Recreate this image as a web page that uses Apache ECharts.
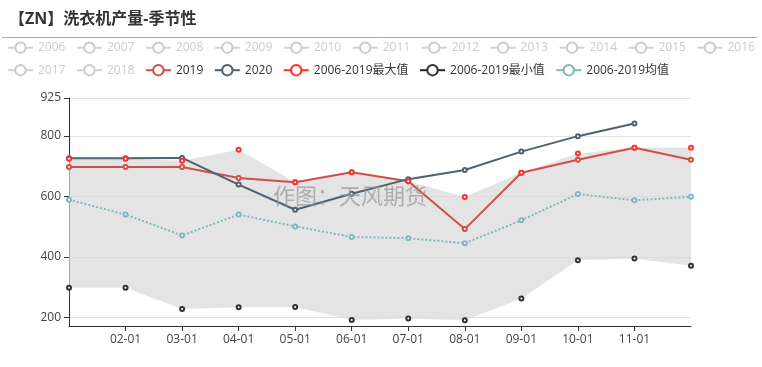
<!DOCTYPE html>
<html><head><meta charset="utf-8">
<script src="https://cdn.jsdelivr.net/npm/echarts@6/dist/echarts.min.js"></script>
<style>html,body{margin:0;padding:0;background:#fff}#c{width:762px;height:367px}</style>
</head><body><div id="c"></div>
<script>
const categories = ['01-01','02-01','03-01','04-01','05-01','06-01','07-01','08-01','09-01','10-01','11-01','12-01'];
const hiddenYears = ['2006','2007','2008','2009','2010','2011','2012','2013','2014','2015','2016','2017','2018'];
const s2019 = [697, 697, 697, 661, 647, 680, 650, 492, 678, 721, 761, 721];
const s2020 = [726, 726, 727, 639, 556, 609, 657, 687, 748, 799, 841];
const maxVals = [724, 724, 718, 754, 647, 680, 650, 598, 678, 742, 761, 761];
const minVals = [298, 298, 228, 234, 235, 192, 197, 191, 263, 389, 395, 371];
const meanVals = [589, 540, 471, 540, 501, 466, 462, 445, 521, 608, 587, 599];
const yMin = 172, yMax = 925;

const FONT = "'Open Sans','Noto Sans CJK SC',sans-serif";
const NAME_MAX = '2006-2019最大值', NAME_MIN = '2006-2019最小值', NAME_MEAN = '2006-2019均值';
const selected = {};
hiddenYears.forEach(y => selected[y] = false);

const SYM = 4, BW = 1.3;
const series = [];
series.push({
  name: '__band_base', type: 'line', stack: 'band', data: minVals, symbol: 'none',
  lineStyle: {opacity: 0}, silent: true, z: 1
});
series.push({
  name: '__band', type: 'line', stack: 'band', data: maxVals.map((v, i) => v - minVals[i]), symbol: 'none',
  lineStyle: {opacity: 0}, areaStyle: {color: '#d9d9d9', opacity: 0.7}, silent: true, z: 1
});
hiddenYears.forEach(y => series.push({name: y, type: 'line', data: []}));
series.push({name: '2019', type: 'line', data: s2019, symbol: 'emptyCircle', symbolSize: SYM,
  itemStyle: {color: '#cf4f4a', borderWidth: BW}, lineStyle: {width: 2, color: '#cf4f4a'}, z: 3});
series.push({name: '2020', type: 'line', data: s2020, symbol: 'emptyCircle', symbolSize: SYM,
  itemStyle: {color: '#4f6170', borderWidth: BW}, lineStyle: {width: 2, color: '#4f6170'}, z: 3});
series.push({name: NAME_MAX, type: 'line', data: maxVals, symbol: 'emptyCircle', symbolSize: SYM,
  itemStyle: {color: '#ff3030', borderWidth: BW}, lineStyle: {opacity: 0, color: '#ff3030'}, z: 4});
series.push({name: NAME_MIN, type: 'line', data: minVals, symbol: 'emptyCircle', symbolSize: SYM,
  itemStyle: {color: '#333', borderWidth: BW}, lineStyle: {opacity: 0, color: '#222'}, z: 4});
series.push({name: NAME_MEAN, type: 'line', data: meanVals, symbol: 'emptyCircle', symbolSize: SYM,
  itemStyle: {color: '#7fb6bf', borderWidth: BW}, lineStyle: {width: 2, type: 'dotted', color: '#7fb6bf'}, z: 3});

const legendCommon = {
  itemWidth: 25, itemHeight: 13, itemGap: 10.5, padding: 0, width: 760,
  inactiveColor: '#ccc',
  textStyle: {fontSize: 12, color: '#333', fontFamily: FONT},
  selected: selected
};
const row1 = hiddenYears.slice(0, 11);
const row2 = hiddenYears.slice(11).concat([
  {name: '2019', itemStyle: {borderWidth: 1}},
  {name: '2020', itemStyle: {borderWidth: 1}},
  {name: NAME_MAX, lineStyle: {opacity: 1, width: 2, color: '#ff3030'}, itemStyle: {borderWidth: 1}},
  {name: NAME_MIN, lineStyle: {opacity: 1, width: 2, color: '#222'}, itemStyle: {borderWidth: 1}},
  {name: NAME_MEAN, lineStyle: {type: 'solid'}, itemStyle: {borderWidth: 1}}]);

const option = {
  animation: false,
  backgroundColor: '#fff',
  title: {text: '【ZN】洗衣机产量-季节性', left: 4, top: 6,
    textStyle: {fontSize: 16, fontWeight: 'bold', color: '#333', fontFamily: FONT}},
  graphic: [
    {type: 'line', shape: {x1: 2, y1: 37.5, x2: 757, y2: 37.5}, style: {stroke: '#aaa', lineWidth: 1}, silent: true},
    {type: 'text', left: 273, top: 187, silent: true, z: 10,
      style: {text: '作图：天风期货', fontSize: 22, fill: 'rgba(150,150,150,0.7)', fontFamily: FONT}}
  ],
  legend: [
    Object.assign({}, legendCommon, {left: 7, top: 41.5, data: row1}),
    Object.assign({}, legendCommon, {left: 7, top: 64, data: row2})
  ],
  grid: {left: 69, right: 71, top: 98, bottom: 41},
  xAxis: {
    type: 'category', boundaryGap: false, data: categories,
    axisLine: {lineStyle: {color: '#333'}},
    axisTick: {show: true, interval: (i) => i > 0 && i < categories.length - 1, lineStyle: {color: '#333'}},
    axisLabel: {interval: (i) => i > 0 && i < categories.length - 1, color: '#444', fontSize: 12, fontFamily: FONT, margin: 8},
    splitLine: {show: false}
  },
  yAxis: {
    type: 'value', min: yMin, max: yMax,
    axisLine: {show: true, lineStyle: {color: '#333'}},
    axisTick: {show: true, lineStyle: {color: '#333'}},
    axisLabel: {color: '#444', fontSize: 12, fontFamily: FONT, margin: 8},
    splitLine: {show: true, lineStyle: {color: '#e3e3e3'}}
  },
  series: series
};
const chart = echarts.init(document.getElementById('c'), null, {renderer: 'canvas'});
chart.setOption(option);
</script></body></html>
